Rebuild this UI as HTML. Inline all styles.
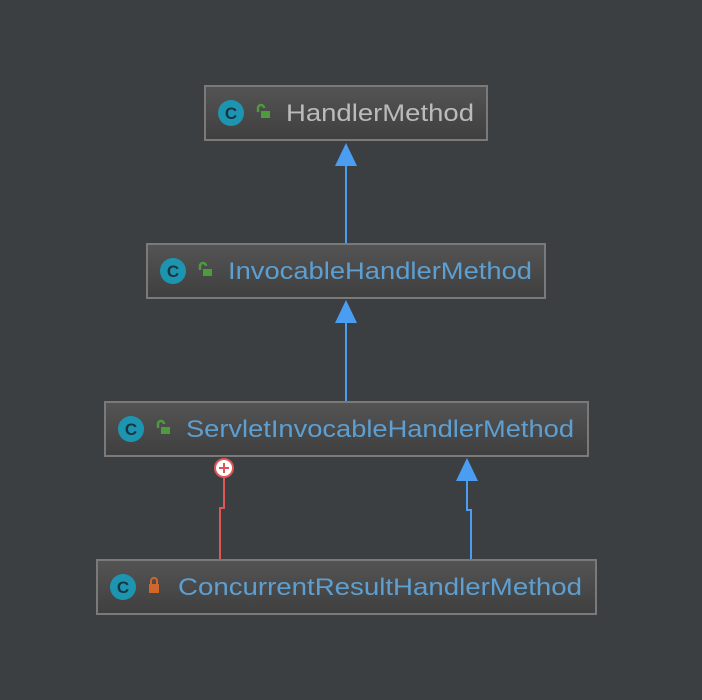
<html><body style="margin:0;background:#3c3f41;width:702px;height:700px;overflow:hidden">
<svg width="702" height="700" xmlns="http://www.w3.org/2000/svg" font-family="Liberation Sans, sans-serif">
<defs>
<linearGradient id="g" x1="0" y1="0" x2="0" y2="1"><stop offset="0" stop-color="#545454"/><stop offset="1" stop-color="#3f3f3f"/></linearGradient>
<g id="lk"><rect x="0" y="5" width="9" height="7" fill="#4c9c3c"/><path d="M-3 6 V2 a3 3 0 0 1 6 0" stroke="#4c9c3c" stroke-width="2.5" fill="none"/></g>
</defs>
<rect width="702" height="700" fill="#3c3f41"/>
<g stroke="#4a9df0" stroke-width="2" fill="none">
<line x1="346" y1="165" x2="346" y2="243"/>
<line x1="346" y1="322" x2="346" y2="401"/>
<polyline points="467,480 467,510 471,510 471,559"/>
</g>
<g fill="#4a9df0">
<polygon points="346,143 335,166 357,166"/>
<polygon points="346,300 335,323 357,323"/>
<polygon points="467,458 456,481 478,481"/>
</g>
<polyline points="224,478 224,508 220,508 220,559" stroke="#e05555" stroke-width="2" fill="none"/>
<circle cx="224" cy="468" r="9" fill="#fff" stroke="#e05555" stroke-width="2"/>
<path d="M219 468 H229 M224 463 V473" stroke="#e05555" stroke-width="2"/>
<g stroke="#7a7a7a" stroke-width="2" fill="url(#g)">
<rect x="205" y="86" width="282" height="54"/>
<rect x="147" y="244" width="398" height="54"/>
<rect x="105" y="402" width="483" height="54"/>
<rect x="97" y="560" width="499" height="54"/>
</g>
<g fill="#1e95b0">
<circle cx="231" cy="113" r="13"/><circle cx="173" cy="271" r="13"/><circle cx="131" cy="429" r="13"/><circle cx="123" cy="587" r="13"/>
</g>
<g fill="#163644" font-size="17" font-weight="bold" text-anchor="middle">
<text x="231" y="119">C</text><text x="173" y="277">C</text><text x="131" y="435">C</text><text x="123" y="593">C</text>
</g>
<use href="#lk" x="261" y="106"/><use href="#lk" x="203" y="264"/><use href="#lk" x="161" y="422"/>
<rect x="149" y="584" width="10" height="9" fill="#d0662a"/><path d="M151 585 V581 a3 3 0 0 1 6 0 V585" stroke="#d0662a" stroke-width="2" fill="none"/>
<g font-size="24">
<text x="286" y="121" fill="#bbbbbb" textLength="188" lengthAdjust="spacingAndGlyphs">HandlerMethod</text>
<text x="228" y="279" fill="#5d9fd0" textLength="304" lengthAdjust="spacingAndGlyphs">InvocableHandlerMethod</text>
<text x="186" y="437" fill="#5d9fd0" textLength="388" lengthAdjust="spacingAndGlyphs">ServletInvocableHandlerMethod</text>
<text x="178" y="595" fill="#5d9fd0" textLength="404" lengthAdjust="spacingAndGlyphs">ConcurrentResultHandlerMethod</text>
</g>
</svg>
</body></html>
